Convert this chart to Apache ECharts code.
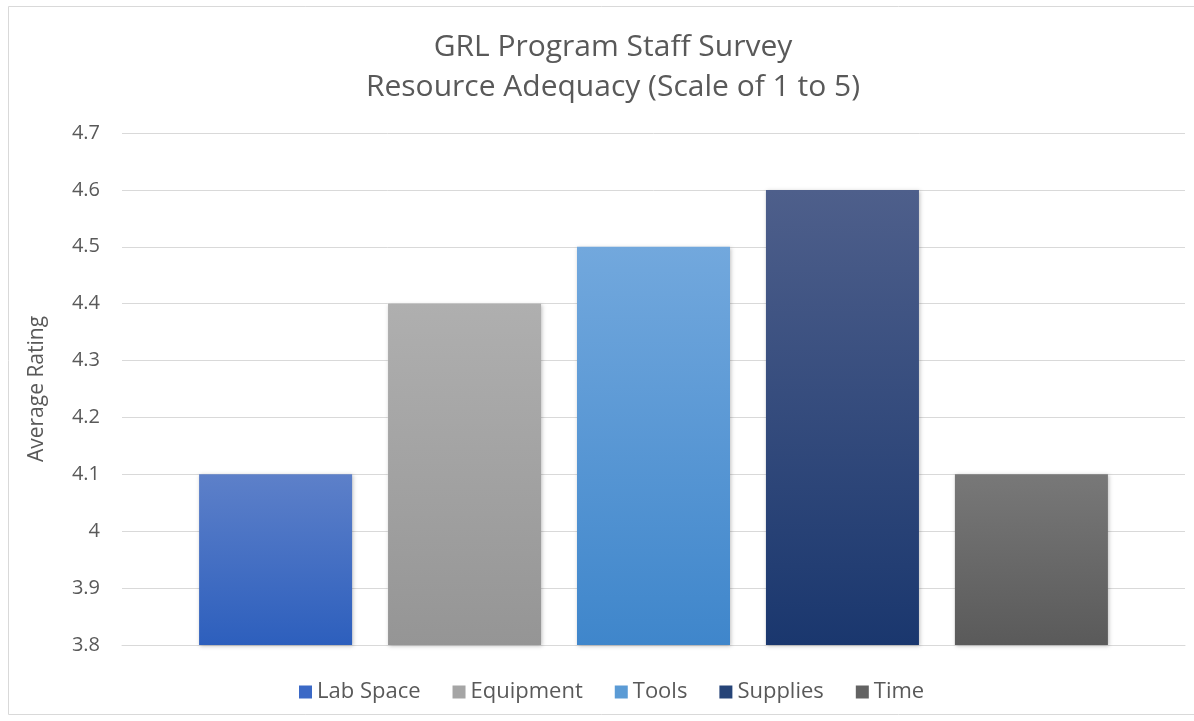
<!DOCTYPE html>
<html><head><meta charset="utf-8">
<script src="https://cdn.jsdelivr.net/npm/echarts@6/dist/echarts.min.js"></script>
<style>html,body{margin:0;padding:0;background:#fff}#c{width:1194px;height:721px}</style>
</head><body><div id="c"></div>
<script>
const titleLines = ['GRL Program Staff Survey', 'Resource Adequacy (Scale of 1 to 5)'];
const seriesNames = ['Lab Space', 'Equipment', 'Tools', 'Supplies', 'Time'];
const seriesValues = [4.1, 4.4, 4.5, 4.6, 4.1];
const yAxisName = 'Average Rating';
const yMin = 3.8, yMax = 4.7, yStep = 0.1;

const legendColors = ['#3b69c6', '#a5a5a5', '#5b9bd5', '#264478', '#636363'];
const gradTop = ['#5d80c9', '#afafaf', '#72a8dd', '#4e5f8b', '#787878'];
const gradBottom = ['#2d5fbd', '#959595', '#3f86cb', '#1a376e', '#5a5a5a'];

const chart = echarts.init(document.getElementById('c'));
const font = 'Open Sans';
chart.setOption({
  backgroundColor: '#fff',
  animation: false,
  graphic: [{
    type: 'rect', shape: { x: 8.5, y: 6.5, width: 1200, height: 708 },
    style: { fill: 'none', stroke: '#d9d9d9', lineWidth: 1 }, silent: true, z: -1
  }],
  title: {
    text: titleLines.join('\n'), left: 608, top: 22, textAlign: 'center',
    textStyle: { fontFamily: font, fontSize: 30, fontWeight: 'normal', color: '#595959', lineHeight: 40 }
  },
  legend: {
    bottom: 13, left: 294, itemWidth: 13, itemHeight: 13, itemGap: 32,
    icon: 'rect',
    textStyle: { fontFamily: font, fontSize: 22, color: '#595959' },
    data: seriesNames.map((n, i) => ({ name: n, itemStyle: { color: legendColors[i] } }))
  },
  grid: { left: 122, right: 9, top: 133, bottom: 76 },
  xAxis: {
    type: 'category', data: [''],
    axisLine: { show: true, lineStyle: { color: '#d9d9d9' } },
    axisTick: { show: false }, axisLabel: { show: false }
  },
  yAxis: {
    type: 'value', min: yMin, max: yMax, interval: yStep,
    name: yAxisName, nameLocation: 'middle', nameGap: 74, nameRotate: 90,
    nameTextStyle: { fontFamily: font, fontSize: 21, color: '#595959' },
    axisLine: { show: false }, axisTick: { show: false },
    axisLabel: { fontFamily: font, fontSize: 20, color: '#595959', margin: 22,
      formatter: v => String(parseFloat(v.toFixed(1))) },
    splitLine: { lineStyle: { color: '#d9d9d9', width: 1 } }
  },
  series: seriesNames.map((n, i) => ({
    name: n, type: 'bar', data: [seriesValues[i]],
    barWidth: 153, barGap: '23.5%',
    itemStyle: {
      color: new echarts.graphic.LinearGradient(0, 0, 0, 1, [
        { offset: 0, color: gradTop[i] }, { offset: 1, color: gradBottom[i] }]),
      shadowBlur: 4, shadowColor: 'rgba(0,0,0,0.25)', shadowOffsetX: 1, shadowOffsetY: 1
    }
  }))
});
</script></body></html>
